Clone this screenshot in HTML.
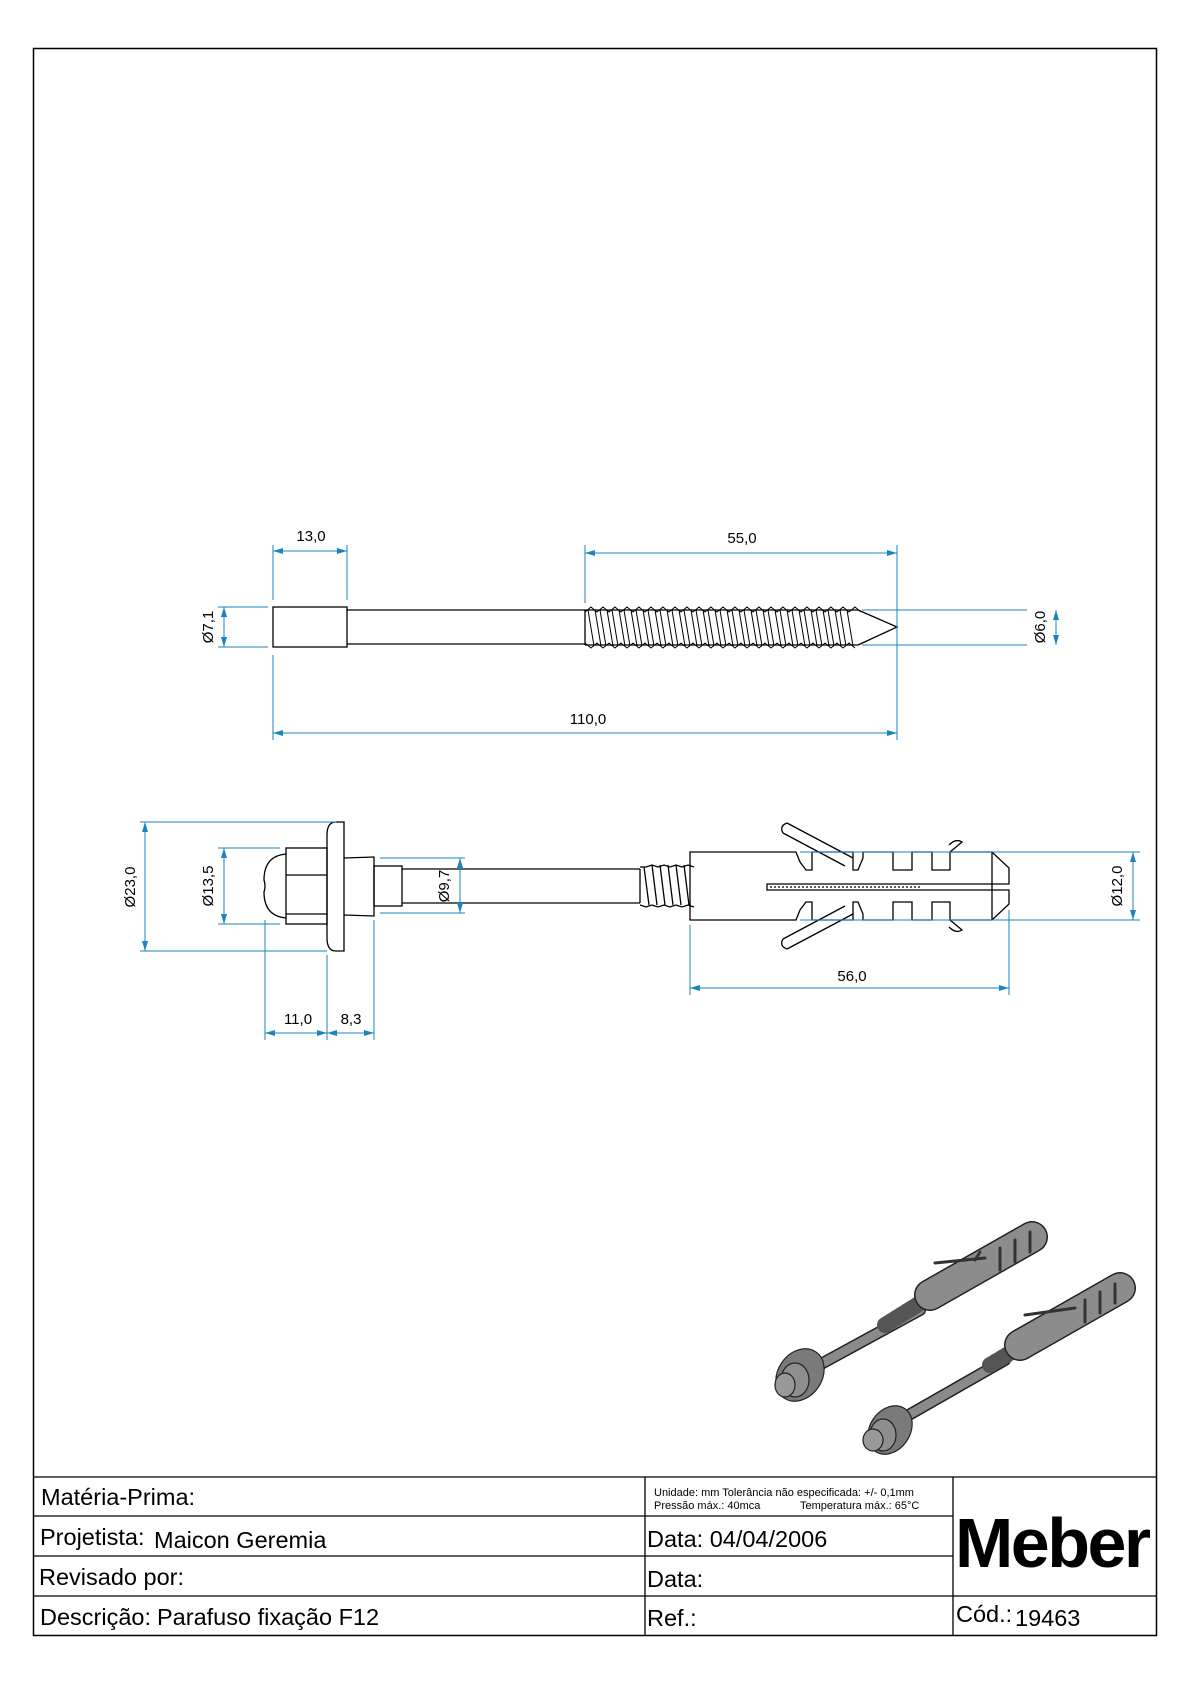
<!DOCTYPE html>
<html><head><meta charset="utf-8"><style>
html,body{margin:0;padding:0;background:#fff}
svg{display:block}
text{font-family:"Liberation Sans",Arial,sans-serif}
</style></head><body>
<svg width="1190" height="1684" viewBox="0 0 1190 1684" xmlns="http://www.w3.org/2000/svg">
<defs>
<marker id="a" viewBox="0 0 10 6" refX="10" refY="3" markerWidth="10" markerHeight="6" orient="auto-start-reverse" markerUnits="userSpaceOnUse"><path d="M0,0 L10,3 L0,6z" fill="#1a84c0"/></marker>
</defs>
<rect x="33.5" y="48.5" width="1123" height="1587" fill="none" stroke="#000" stroke-width="1.5"/>

<!-- ===== Top screw ===== -->
<g fill="none" stroke="#000" stroke-width="1.3">
<rect x="273" y="607" width="74" height="40"/>
<path d="M347 610 H585 M347 644 H585"/>
<path d="M585 610 V645 M585 610 H858 M585 645 H858 M858 610 L897 627 L858 645"/>
</g>
<g stroke="#000" stroke-width="1" fill="none">
<path d="M585 612 l6 -5 l6 5 l6 -5 l6 5 l6 -5 l6 5 l6 -5 l6 5 l6 -5 l6 5 l6 -5 l6 5 l6 -5 l6 5 l6 -5 l6 5 l6 -5 l6 5 l6 -5 l6 5 l6 -5 l6 5 l6 -5 l6 5 l6 -5 l6 5 l6 -5 l6 5 l6 -5 l6 5 l6 -5 l6 5 l6 -5 l6 5 l6 -5 l6 5 l6 -5 l6 5 l6 -5 l6 5 l6 -5 l6 5 l6 -5 l6 5 l6 -5 l6 5" />
<path d="M585 643 l6 5 l6 -5 l6 5 l6 -5 l6 5 l6 -5 l6 5 l6 -5 l6 5 l6 -5 l6 5 l6 -5 l6 5 l6 -5 l6 5 l6 -5 l6 5 l6 -5 l6 5 l6 -5 l6 5 l6 -5 l6 5 l6 -5 l6 5 l6 -5 l6 5 l6 -5 l6 5 l6 -5 l6 5 l6 -5 l6 5 l6 -5 l6 5 l6 -5 l6 5 l6 -5 l6 5 l6 -5 l6 5 l6 -5 l6 5 l6 -5 l6 5" />
<path d="M588 610 l6 36 M595 610 l6 36 M600 610 l6 36 M607 610 l6 36 M612 610 l6 36 M619 610 l6 36 M624 610 l6 36 M631 610 l6 36 M636 610 l6 36 M643 610 l6 36 M648 610 l6 36 M655 610 l6 36 M660 610 l6 36 M667 610 l6 36 M672 610 l6 36 M679 610 l6 36 M684 610 l6 36 M691 610 l6 36 M696 610 l6 36 M703 610 l6 36 M708 610 l6 36 M715 610 l6 36 M720 610 l6 36 M727 610 l6 36 M732 610 l6 36 M739 610 l6 36 M744 610 l6 36 M751 610 l6 36 M756 610 l6 36 M763 610 l6 36 M768 610 l6 36 M775 610 l6 36 M780 610 l6 36 M787 610 l6 36 M792 610 l6 36 M799 610 l6 36 M804 610 l6 36 M811 610 l6 36 M816 610 l6 36 M823 610 l6 36 M828 610 l6 36 M835 610 l6 36 M840 610 l6 36 M847 610 l6 36"/>
</g>
<!-- top dims -->
<g stroke="#1a84c0" stroke-width="1" fill="none">
<path d="M273 545 V600 M347 545 V600 M273 655 V740 M585 545 V603 M897 545 V740"/>
<path d="M273 551 H347" marker-start="url(#a)" marker-end="url(#a)"/>
<path d="M585 553 H897" marker-start="url(#a)" marker-end="url(#a)"/>
<path d="M273 733 H897" marker-start="url(#a)" marker-end="url(#a)"/>
<path d="M218 607 H268 M218 647 H268"/>
<path d="M224 607 V647" marker-start="url(#a)" marker-end="url(#a)"/>
<path d="M862 610 H1027 M862 645 H1027"/>
<path d="M1056 610 V645" marker-start="url(#a)" marker-end="url(#a)"/>
</g>
<g font-size="15" fill="#000" text-anchor="middle">
<text x="311" y="541">13,0</text>
<text x="742" y="543">55,0</text>
<text x="588" y="724">110,0</text>
<text transform="translate(213,627) rotate(-90)" y="0">Ø7,1</text>
<text transform="translate(1045,627) rotate(-90)">Ø6,0</text>
</g>

<!-- ===== Bottom assembly ===== -->
<g fill="none" stroke="#000" stroke-width="1.3">
<path d="M286 854 Q264 856 264 880 Q266 886 264 892 Q264 916 286 918"/>
<rect x="286" y="848" width="41" height="76"/>
<path d="M286 875 H327 M286 914 H327"/>
<path d="M344 822 H336 Q327 822 327 835 V938 Q327 951 336 951 H344 Z"/>
<path d="M344 858 L374 857 V916 L344 915"/>
<rect x="374" y="866" width="28" height="40"/>
<path d="M402 869 H640 M402 903 H640"/>
<path d="M640 869 V903"/>
<path d="M640 867 l6 0 l6 -2 l6 2 l6 -2 l6 2 l6 -2 l6 2 l6 -2 l6 2 M640 905 l6 2 l6 -2 l6 2 l6 -2 l6 2 l6 -2 l6 2 l6 -2 l6 2"/>
<path d="M644 867 l5 38 M652 865 l5 40 M660 865 l5 40 M668 865 l5 40 M676 865 l5 40 M684 865 l5 40"/>
<!-- anchor -->
<path d="M690 852 H796 L800 862 L806 870 H812 V852 H853 V870 H858 L863 858 V852 H893 V870 H912 V852 H932 V870 H950 V852 H992 L1009 868 V884 H767 V890 H1009 V904 L992 920 H950 V902 H932 V920 H912 V902 H893 V920 H863 V914 L858 902 H853 V920 H812 V902 H806 L800 910 L796 920 H690 Z"/>
<path d="M992 852 V920"/>
<path d="M787 823 L853 858 M783 833 L845 866 M787 823 Q779 826 783 833"/>
<path d="M787 949 L853 914 M783 939 L845 906 M787 949 Q779 946 783 939"/>
<path d="M950 852 L962 842 Q956 838 949 845 M950 920 L962 930 Q956 934 949 927"/>
<path d="M770 887 H920" stroke-dasharray="2 2"/>
</g>
<!-- bottom dims -->
<g stroke="#1a84c0" stroke-width="1" fill="none">
<path d="M140 822 H336 M140 951 H327"/>
<path d="M145 822 V951" marker-start="url(#a)" marker-end="url(#a)"/>
<path d="M218 848 H280 M218 924 H280"/>
<path d="M224 848 V924" marker-start="url(#a)" marker-end="url(#a)"/>
<path d="M380 858 H465 M380 913 H465"/>
<path d="M460 858 V913" marker-start="url(#a)" marker-end="url(#a)"/>
<path d="M265 920 V1040 M327 955 V1040 M374 920 V1040"/>
<path d="M265 1033 H327" marker-start="url(#a)" marker-end="url(#a)"/>
<path d="M327 1033 H374" marker-start="url(#a)" marker-end="url(#a)"/>
<path d="M800 852 H1140 M800 920 H1140"/>
<path d="M1133 852 V920" marker-start="url(#a)" marker-end="url(#a)"/>
<path d="M690 925 V995 M1009 910 V995"/>
<path d="M690 988 H1009" marker-start="url(#a)" marker-end="url(#a)"/>
</g>
<g font-size="15" fill="#000" text-anchor="middle">
<text transform="translate(135,887) rotate(-90)">Ø23,0</text>
<text transform="translate(213,886) rotate(-90)">Ø13,5</text>
<text transform="translate(449,886) rotate(-90)">Ø9,7</text>
<text transform="translate(1122,886) rotate(-90)">Ø12,0</text>
<text x="298" y="1024">11,0</text>
<text x="351" y="1024">8,3</text>
<text x="852" y="981">56,0</text>
</g>

<!-- ===== 3D views ===== -->
<g stroke="#222" stroke-width="1.2" stroke-linecap="round">
<line x1="810" y1="1370" x2="920" y2="1310" stroke="#222" stroke-width="12"/>
<line x1="810" y1="1370" x2="920" y2="1310" stroke="#8a8a8a" stroke-width="9"/>
<line x1="885" y1="1325" x2="925" y2="1300" stroke="#555" stroke-width="16" stroke-dasharray="3 3"/>
<line x1="930" y1="1295" x2="1032" y2="1237" stroke="#222" stroke-width="32"/>
<line x1="930" y1="1295" x2="1032" y2="1237" stroke="#8c8c8c" stroke-width="29"/>
<path d="M935 1263 L985 1258 M975 1260 l5 -8 M1000 1248 V1270 M1015 1240 V1262 M1030 1232 V1252" stroke="#333" stroke-width="3"/>
<ellipse cx="800" cy="1375" rx="22" ry="28" transform="rotate(35 800 1375)" fill="#7a7a7a"/>
<ellipse cx="795" cy="1380" rx="14" ry="17" fill="#8e8e8e"/>
<ellipse cx="785" cy="1385" rx="10" ry="12" fill="#999"/>
<line x1="900" y1="1420" x2="1005" y2="1360" stroke="#222" stroke-width="12"/>
<line x1="900" y1="1420" x2="1005" y2="1360" stroke="#8a8a8a" stroke-width="9"/>
<line x1="990" y1="1365" x2="1015" y2="1350" stroke="#555" stroke-width="16" stroke-dasharray="3 3"/>
<line x1="1020" y1="1345" x2="1120" y2="1288" stroke="#222" stroke-width="32"/>
<line x1="1020" y1="1345" x2="1120" y2="1288" stroke="#8c8c8c" stroke-width="29"/>
<path d="M1025 1315 L1075 1308 M1085 1300 V1322 M1100 1292 V1313 M1115 1284 V1303" stroke="#333" stroke-width="3"/>
<ellipse cx="890" cy="1430" rx="20" ry="26" transform="rotate(35 890 1430)" fill="#7a7a7a"/>
<ellipse cx="883" cy="1435" rx="13" ry="16" fill="#8e8e8e"/>
<ellipse cx="873" cy="1440" rx="10" ry="11" fill="#999"/>
</g>

<!-- ===== Title block ===== -->
<g stroke="#000" stroke-width="1.3" fill="none">
<path d="M33 1477 H1156 M33 1516 H953 M33 1556 H953 M33 1596 H1156"/>
<path d="M645 1477 V1635 M953 1477 V1635"/>
</g>
<g fill="#000" font-size="23.5">
<text x="41" y="1505">Matéria-Prima:</text>
<text x="40" y="1545">Projetista:</text>
<text x="154" y="1548">Maicon Geremia</text>
<text x="39" y="1585">Revisado por:</text>
<text x="40" y="1625">Descrição:</text>
<text x="157" y="1625">Parafuso fixação F12</text>
<text x="647" y="1547">Data: 04/04/2006</text>
<text x="647" y="1587">Data:</text>
<text x="647" y="1626">Ref.:</text>
<text x="956" y="1622">Cód.:</text>
<text x="1015" y="1626">19463</text>
</g>
<g fill="#000" font-size="11">
<text x="654" y="1496">Unidade: mm Tolerância não especificada: +/- 0,1mm</text>
<text x="654" y="1509">Pressão máx.: 40mca<tspan x="800">Temperatura máx.: 65°C</tspan></text>
</g>
<text x="955" y="1567" font-size="70" font-weight="bold" letter-spacing="-2.5" fill="#000">Meber</text>
</svg>
</body></html>
